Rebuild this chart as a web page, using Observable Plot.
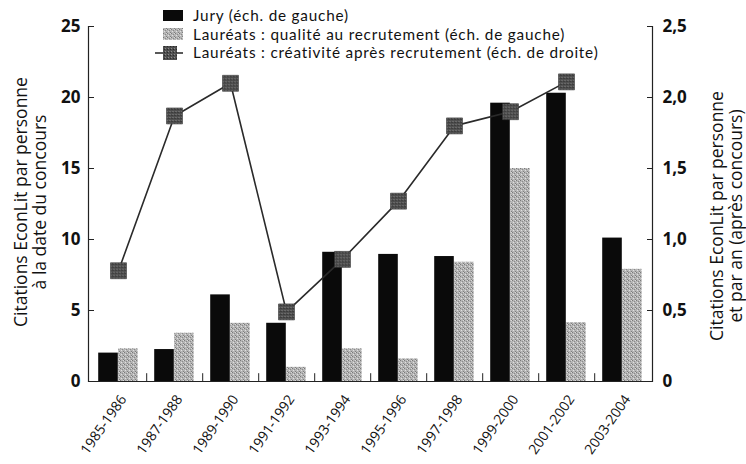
<!DOCTYPE html>
<html>
<head>
<meta charset="utf-8">
<script src="https://cdn.jsdelivr.net/npm/d3@7"></script>
<script src="https://cdn.jsdelivr.net/npm/@observablehq/plot@0.6"></script>
<style>
  html, body { margin: 0; padding: 0; background: #fff; }
  #wrap { position: relative; width: 746px; height: 464px; font-family: "Open Sans", sans-serif; color: #111; }
  .title { position: absolute; transform: translate(-50%, -50%) rotate(-90deg); white-space: nowrap; text-align: center; font-size: 17.5px; line-height: 19px; }
  #legend { position: absolute; left: 155px; top: 6px; font-family: Lato, "Open Sans", sans-serif; font-size: 15.3px; letter-spacing: 0.8px; }
  .row { display: flex; align-items: center; height: 18.5px; }
  .sw { width: 38px; height: 17px; position: relative; flex: none; }
  .row span { display: inline-block; white-space: nowrap; line-height: 18px; }
  g[aria-label="y-axis tick label"] text { font-weight: bold; }
</style>
</head>
<body>
<svg width="0" height="0" style="position:absolute">
  <defs>
    <pattern id="stipple" width="4" height="4" patternUnits="userSpaceOnUse">
      <rect width="4" height="4" fill="#b5b5b5"/>
      <rect x="0" y="0" width="1" height="1" fill="#7a7a7a"/>
      <rect x="2" y="1" width="1" height="1" fill="#8a8a8a"/>
      <rect x="1" y="2" width="1" height="1" fill="#e0e0e0"/>
      <rect x="3" y="3" width="1" height="1" fill="#808080"/>
      <rect x="3" y="0" width="1" height="1" fill="#d8d8d8"/>
    </pattern>
    <pattern id="darkstipple" width="3" height="3" patternUnits="userSpaceOnUse">
      <rect width="3" height="3" fill="#4e4e4e"/>
      <rect x="1" y="1" width="1" height="1" fill="#8a8a8a"/>
      <rect x="0" y="2" width="1" height="1" fill="#2a2a2a"/>
    </pattern>
  </defs>
</svg>
<div id="wrap">
  <div class="title" style="left:30px; top:202px;">Citations EconLit par personne<br>à la date du concours</div>
  <div class="title" style="left:726px; top:216px;">Citations EconLit par personne<br>et par an (après concours)</div>
  <div id="legend">
    <div class="row"><div class="sw"><div style="position:absolute;left:8px;top:3px;width:20px;height:11px;background:#0a0a0a"></div></div><span>Jury (éch. de gauche)</span></div>
    <div class="row"><div class="sw"><svg width="38" height="17" style="position:absolute;left:0;top:0"><rect x="8" y="3" width="20" height="12" fill="url(#stipple)"/></svg></div><span>Lauréats : qualité au recrutement (éch. de gauche)</span></div>
    <div class="row"><div class="sw"><svg width="38" height="17" style="position:absolute;left:0;top:0"><line x1="0" x2="28" y1="9" y2="9" stroke="#222" stroke-width="1.5"/><rect x="8" y="2" width="14" height="14" fill="url(#darkstipple)"/></svg></div><span>Lauréats : créativité après recrutement (éch. de droite)</span></div>
  </div>
</div>
<script>
// ---- data ----
const periods = ["1985-1986","1987-1988","1989-1990","1991-1992","1993-1994","1995-1996","1997-1998","1999-2000","2001-2002","2003-2004"];
const jury = [2.0, 2.25, 6.1, 4.1, 9.1, 8.95, 8.8, 19.6, 20.3, 10.1];
const laureatsQualite = [2.3, 3.4, 4.1, 1.0, 2.3, 1.6, 8.4, 15.0, 4.15, 7.9];
const laureatsCreativite = [0.78, 1.87, 2.1, 0.49, 0.86, 1.27, 1.8, 1.9, 2.11]; // right scale, no value for 2003-2004
const leftTicks = [0, 5, 10, 15, 20, 25];
const rightTicks = [0, 0.5, 1.0, 1.5, 2.0, 2.5];
const rightToLeft = 10; // 2,5 on the right aligns with 25 on the left

const juryRows = periods.map((p, i) => ({period: p, value: jury[i]}));
const qualRows = periods.map((p, i) => ({period: p, value: laureatsQualite[i]}));
const creaRows = laureatsCreativite.map((v, i) => ({period: periods[i], value: v}));

const W = 746, H = 464, mL = 88, mR = 94, mT = 26, mB = 83;
const bw = (W - mL - mR) / periods.length;
const barW = 20;

const fmtRight = d => d === 0 ? "0" : (d / rightToLeft).toFixed(1).replace(".", ",");

const plot = Plot.plot({
  width: W, height: H,
  marginLeft: mL, marginRight: mR, marginTop: mT, marginBottom: mB,
  style: {fontFamily: "'Open Sans', sans-serif", color: "#111", background: "transparent"},
  x: {type: "band", domain: periods, padding: 0},
  y: {domain: [0, 25]},
  marks: [
    Plot.barY(juryRows, {x: "period", y: "value", fill: "#0a0a0a", insetLeft: bw/2 - barW, insetRight: bw/2}),
    Plot.barY(qualRows, {x: "period", y: "value", fill: "url(#stipple)", insetLeft: bw/2, insetRight: bw/2 - barW}),
    Plot.ruleX(periods.slice(0, -1), {x: d => d, dx: bw/2, y1: 0, y2: 0.55, stroke: "#222"}),
    Plot.ruleY([0], {stroke: "#222", strokeWidth: 1.2}),
    Plot.frame({anchor: "left", stroke: "#222", strokeWidth: 1.2}),
    Plot.frame({anchor: "right", stroke: "#222", strokeWidth: 1.2}),
    Plot.axisY({anchor: "left", ticks: leftTicks, tickSize: -6, fill: "none", stroke: "#222", label: null}),
    Plot.axisY({anchor: "left", ticks: leftTicks, tickSize: 0, tickPadding: 8, fontSize: 17, fontWeight: "bold", label: null}),
    Plot.axisY({anchor: "right", ticks: rightTicks.map(d => d * rightToLeft), tickSize: -6, fill: "none", stroke: "#222", label: null}),
    Plot.axisY({anchor: "right", ticks: rightTicks.map(d => d * rightToLeft), tickFormat: fmtRight, tickSize: 0, tickPadding: 10, fontSize: 17, fontWeight: "bold", label: null}),
    Plot.axisX({tickSize: 0, tickRotate: -55, tickPadding: 15, dx: 5, fontSize: 14, label: null}),
    Plot.line(creaRows, {x: "period", y: d => d.value * rightToLeft, stroke: "#2a2a2a", strokeWidth: 1.6}),
    Plot.dot(creaRows, {x: "period", y: d => d.value * rightToLeft, symbol: "square", r: 9, fill: "url(#darkstipple)", stroke: "#333", strokeWidth: 0.6})
  ]
});
document.getElementById("wrap").prepend(plot);
</script>
</body>
</html>
